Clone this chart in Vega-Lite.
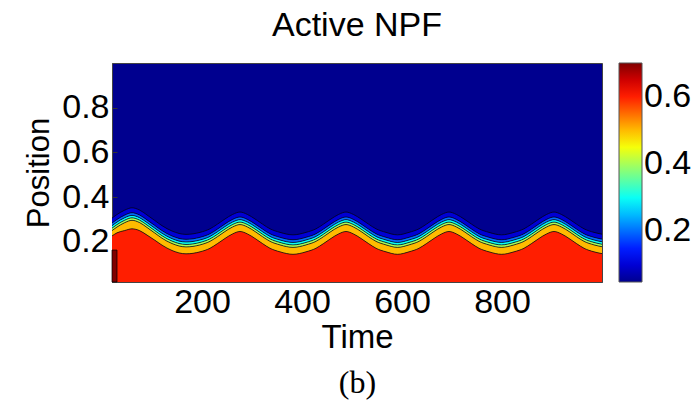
{
  "$schema": "https://vega.github.io/schema/vega-lite/v6.json",
  "width": 490,
  "height": 219,
  "autosize": {"type": "none"},
  "padding": {"left": 112, "top": 63, "right": 90, "bottom": 130},
  "background": "white",
  "title": {
    "text": "Active NPF",
    "font": "Liberation Sans",
    "fontSize": 34,
    "fontWeight": "normal",
    "color": "black",
    "anchor": "middle",
    "offset": 20
  },
  "config": {
    "view": {"fill": "#00008F", "stroke": "#444444", "strokeWidth": 1},
    "axis": {
      "labelFont": "Liberation Sans",
      "titleFont": "Liberation Sans",
      "labelFontSize": 34,
      "titleFontSize": 33,
      "titleFontWeight": "normal",
      "labelColor": "black",
      "titleColor": "black",
      "grid": false,
      "domainColor": "#444444",
      "tickColor": "#333333",
      "tickSize": -5,
      "labelPadding": 8
    },
    "axisY": {"titleFontSize": 31},
    "legend": {
      "labelFont": "Liberation Sans",
      "labelFontSize": 34,
      "labelColor": "black",
      "gradientLength": 219,
      "gradientThickness": 23,
      "gradientStrokeColor": "#555555",
      "gradientStrokeWidth": 1,
      "offset": 15,
      "padding": 0,
      "labelOffset": 2
    }
  },
  "data": {
    "values": [
      {"t": 20, "c10": 0.306, "c20": 0.284, "c30": 0.272, "c40": 0.261, "c50": 0.25, "c60": 0.226},
      {"t": 30, "c10": 0.322, "c20": 0.3, "c30": 0.288, "c40": 0.277, "c50": 0.266, "c60": 0.24},
      {"t": 45, "c10": 0.341, "c20": 0.319, "c30": 0.307, "c40": 0.296, "c50": 0.285, "c60": 0.25},
      {"t": 60, "c10": 0.352, "c20": 0.33, "c30": 0.318, "c40": 0.307, "c50": 0.296, "c60": 0.258},
      {"t": 75, "c10": 0.342, "c20": 0.32, "c30": 0.308, "c40": 0.297, "c50": 0.286, "c60": 0.25},
      {"t": 90, "c10": 0.32, "c20": 0.298, "c30": 0.286, "c40": 0.275, "c50": 0.264, "c60": 0.23},
      {"t": 105, "c10": 0.296, "c20": 0.274, "c30": 0.262, "c40": 0.251, "c50": 0.24, "c60": 0.208},
      {"t": 120, "c10": 0.272, "c20": 0.25, "c30": 0.238, "c40": 0.227, "c50": 0.216, "c60": 0.185},
      {"t": 140, "c10": 0.248, "c20": 0.226, "c30": 0.214, "c40": 0.203, "c50": 0.192, "c60": 0.161},
      {"t": 168, "c10": 0.233, "c20": 0.211, "c30": 0.199, "c40": 0.188, "c50": 0.177, "c60": 0.146},
      {"t": 196, "c10": 0.242, "c20": 0.22, "c30": 0.208, "c40": 0.197, "c50": 0.186, "c60": 0.155},
      {"t": 216, "c10": 0.258, "c20": 0.236, "c30": 0.224, "c40": 0.213, "c50": 0.202, "c60": 0.171},
      {"t": 231, "c10": 0.279, "c20": 0.257, "c30": 0.245, "c40": 0.234, "c50": 0.223, "c60": 0.192},
      {"t": 246, "c10": 0.302, "c20": 0.28, "c30": 0.268, "c40": 0.257, "c50": 0.246, "c60": 0.215},
      {"t": 261, "c10": 0.322, "c20": 0.3, "c30": 0.288, "c40": 0.277, "c50": 0.266, "c60": 0.235},
      {"t": 276, "c10": 0.333, "c20": 0.311, "c30": 0.299, "c40": 0.288, "c50": 0.277, "c60": 0.246},
      {"t": 291, "c10": 0.322, "c20": 0.3, "c30": 0.288, "c40": 0.277, "c50": 0.266, "c60": 0.235},
      {"t": 306, "c10": 0.302, "c20": 0.28, "c30": 0.268, "c40": 0.257, "c50": 0.246, "c60": 0.215},
      {"t": 321, "c10": 0.279, "c20": 0.257, "c30": 0.245, "c40": 0.234, "c50": 0.223, "c60": 0.192},
      {"t": 336, "c10": 0.258, "c20": 0.236, "c30": 0.224, "c40": 0.213, "c50": 0.202, "c60": 0.171},
      {"t": 356, "c10": 0.242, "c20": 0.22, "c30": 0.208, "c40": 0.197, "c50": 0.186, "c60": 0.155},
      {"t": 382, "c10": 0.231, "c20": 0.209, "c30": 0.197, "c40": 0.186, "c50": 0.175, "c60": 0.144},
      {"t": 408, "c10": 0.242, "c20": 0.22, "c30": 0.208, "c40": 0.197, "c50": 0.186, "c60": 0.155},
      {"t": 428, "c10": 0.258, "c20": 0.236, "c30": 0.224, "c40": 0.213, "c50": 0.202, "c60": 0.171},
      {"t": 443, "c10": 0.279, "c20": 0.257, "c30": 0.245, "c40": 0.234, "c50": 0.223, "c60": 0.192},
      {"t": 458, "c10": 0.302, "c20": 0.28, "c30": 0.268, "c40": 0.257, "c50": 0.246, "c60": 0.215},
      {"t": 473, "c10": 0.322, "c20": 0.3, "c30": 0.288, "c40": 0.277, "c50": 0.266, "c60": 0.235},
      {"t": 488, "c10": 0.333, "c20": 0.311, "c30": 0.299, "c40": 0.288, "c50": 0.277, "c60": 0.246},
      {"t": 503, "c10": 0.322, "c20": 0.3, "c30": 0.288, "c40": 0.277, "c50": 0.266, "c60": 0.235},
      {"t": 518, "c10": 0.302, "c20": 0.28, "c30": 0.268, "c40": 0.257, "c50": 0.246, "c60": 0.215},
      {"t": 533, "c10": 0.279, "c20": 0.257, "c30": 0.245, "c40": 0.234, "c50": 0.223, "c60": 0.192},
      {"t": 548, "c10": 0.258, "c20": 0.236, "c30": 0.224, "c40": 0.213, "c50": 0.202, "c60": 0.171},
      {"t": 568, "c10": 0.242, "c20": 0.22, "c30": 0.208, "c40": 0.197, "c50": 0.186, "c60": 0.155},
      {"t": 591, "c10": 0.231, "c20": 0.209, "c30": 0.197, "c40": 0.186, "c50": 0.175, "c60": 0.144},
      {"t": 614, "c10": 0.242, "c20": 0.22, "c30": 0.208, "c40": 0.197, "c50": 0.186, "c60": 0.155},
      {"t": 634, "c10": 0.258, "c20": 0.236, "c30": 0.224, "c40": 0.213, "c50": 0.202, "c60": 0.171},
      {"t": 649, "c10": 0.279, "c20": 0.257, "c30": 0.245, "c40": 0.234, "c50": 0.223, "c60": 0.192},
      {"t": 664, "c10": 0.302, "c20": 0.28, "c30": 0.268, "c40": 0.257, "c50": 0.246, "c60": 0.215},
      {"t": 679, "c10": 0.322, "c20": 0.3, "c30": 0.288, "c40": 0.277, "c50": 0.266, "c60": 0.235},
      {"t": 694, "c10": 0.333, "c20": 0.311, "c30": 0.299, "c40": 0.288, "c50": 0.277, "c60": 0.246},
      {"t": 709, "c10": 0.322, "c20": 0.3, "c30": 0.288, "c40": 0.277, "c50": 0.266, "c60": 0.235},
      {"t": 724, "c10": 0.302, "c20": 0.28, "c30": 0.268, "c40": 0.257, "c50": 0.246, "c60": 0.215},
      {"t": 739, "c10": 0.279, "c20": 0.257, "c30": 0.245, "c40": 0.234, "c50": 0.223, "c60": 0.192},
      {"t": 754, "c10": 0.258, "c20": 0.236, "c30": 0.224, "c40": 0.213, "c50": 0.202, "c60": 0.171},
      {"t": 774, "c10": 0.242, "c20": 0.22, "c30": 0.208, "c40": 0.197, "c50": 0.186, "c60": 0.155},
      {"t": 799, "c10": 0.231, "c20": 0.209, "c30": 0.197, "c40": 0.186, "c50": 0.175, "c60": 0.144},
      {"t": 824, "c10": 0.242, "c20": 0.22, "c30": 0.208, "c40": 0.197, "c50": 0.186, "c60": 0.155},
      {"t": 844, "c10": 0.258, "c20": 0.236, "c30": 0.224, "c40": 0.213, "c50": 0.202, "c60": 0.171},
      {"t": 859, "c10": 0.279, "c20": 0.257, "c30": 0.245, "c40": 0.234, "c50": 0.223, "c60": 0.192},
      {"t": 874, "c10": 0.302, "c20": 0.28, "c30": 0.268, "c40": 0.257, "c50": 0.246, "c60": 0.215},
      {"t": 889, "c10": 0.322, "c20": 0.3, "c30": 0.288, "c40": 0.277, "c50": 0.266, "c60": 0.235},
      {"t": 904, "c10": 0.333, "c20": 0.311, "c30": 0.299, "c40": 0.288, "c50": 0.277, "c60": 0.246},
      {"t": 919, "c10": 0.322, "c20": 0.3, "c30": 0.288, "c40": 0.277, "c50": 0.266, "c60": 0.235},
      {"t": 934, "c10": 0.302, "c20": 0.28, "c30": 0.268, "c40": 0.257, "c50": 0.246, "c60": 0.215},
      {"t": 949, "c10": 0.279, "c20": 0.257, "c30": 0.245, "c40": 0.234, "c50": 0.223, "c60": 0.192},
      {"t": 964, "c10": 0.258, "c20": 0.236, "c30": 0.224, "c40": 0.213, "c50": 0.202, "c60": 0.171},
      {"t": 984, "c10": 0.242, "c20": 0.22, "c30": 0.208, "c40": 0.197, "c50": 0.186, "c60": 0.155},
      {"t": 1000, "c10": 0.234, "c20": 0.212, "c30": 0.2, "c40": 0.189, "c50": 0.178, "c60": 0.147}
    ]
  },
  "layer": [
    {
      "encoding": {
        "x": {
          "field": "t",
          "type": "quantitative",
          "scale": {"domain": [20, 1000], "nice": false, "zero": false},
          "axis": {"values": [200, 400, 600, 800], "title": "Time", "titlePadding": 2}
        }
      },
      "layer": [
        {
          "mark": {"type": "area", "interpolate": "monotone"},
          "encoding": {
            "y": {
              "field": "c60",
              "type": "quantitative",
              "title": "Position",
              "scale": {"domain": [0.02, 1], "nice": false, "zero": false},
              "axis": {"values": [0.2, 0.4, 0.6, 0.8], "title": "Position", "titlePadding": 6}
            },
            "y2": {"datum": 0.02},
            "color": {
              "datum": 0.6,
              "type": "quantitative",
              "scale": {
                "type": "linear",
                "interpolate": "rgb",
                "domain": [0.05, 0.13125, 0.2125, 0.29375, 0.375, 0.45625, 0.5375, 0.61875, 0.7],
                "range": ["#00008F", "#0000FF", "#0080FF", "#00FFFF", "#80FF80", "#FFFF00", "#FF8000", "#FF0000", "#800000"]
              },
              "legend": {"title": null, "values": [0.2, 0.4, 0.6], "direction": "vertical"}
            }
          }
        },
        {
          "mark": {"type": "area", "interpolate": "monotone"},
          "encoding": {
            "y": {"field": "c50", "type": "quantitative", "title": "Position", "axis": {"values": [0.2, 0.4, 0.6, 0.8], "title": "Position", "titlePadding": 6}},
            "y2": {"field": "c60"},
            "color": {"datum": 0.5, "type": "quantitative"}
          }
        },
        {
          "mark": {"type": "area", "interpolate": "monotone"},
          "encoding": {
            "y": {"field": "c40", "type": "quantitative", "title": "Position", "axis": {"values": [0.2, 0.4, 0.6, 0.8], "title": "Position", "titlePadding": 6}},
            "y2": {"field": "c50"},
            "color": {"datum": 0.4, "type": "quantitative"}
          }
        },
        {
          "mark": {"type": "area", "interpolate": "monotone"},
          "encoding": {
            "y": {"field": "c30", "type": "quantitative", "title": "Position", "axis": {"values": [0.2, 0.4, 0.6, 0.8], "title": "Position", "titlePadding": 6}},
            "y2": {"field": "c40"},
            "color": {"datum": 0.3, "type": "quantitative"}
          }
        },
        {
          "mark": {"type": "area", "interpolate": "monotone"},
          "encoding": {
            "y": {"field": "c20", "type": "quantitative", "title": "Position", "axis": {"values": [0.2, 0.4, 0.6, 0.8], "title": "Position", "titlePadding": 6}},
            "y2": {"field": "c30"},
            "color": {"datum": 0.2, "type": "quantitative"}
          }
        },
        {
          "mark": {"type": "area", "interpolate": "monotone"},
          "encoding": {
            "y": {"field": "c10", "type": "quantitative", "title": "Position", "axis": {"values": [0.2, 0.4, 0.6, 0.8], "title": "Position", "titlePadding": 6}},
            "y2": {"field": "c20"},
            "color": {"datum": 0.1, "type": "quantitative"}
          }
        },
        {
          "data": {"values": [{"t": 20, "top": 0.163}, {"t": 30, "top": 0.163}]},
          "mark": {"type": "area", "stroke": "black", "strokeWidth": 0.7},
          "encoding": {
            "y": {"field": "top", "type": "quantitative", "title": "Position", "axis": {"values": [0.2, 0.4, 0.6, 0.8], "title": "Position", "titlePadding": 6}},
            "y2": {"datum": 0.02},
            "color": {"datum": 0.7, "type": "quantitative"}
          }
        }
      ]
    },
    {
      "transform": [{"fold": ["c10", "c20", "c30", "c40", "c50", "c60"], "as": ["contour", "pos"]}],
      "mark": {"type": "line", "interpolate": "monotone", "color": "black", "strokeWidth": 0.7},
      "encoding": {
        "x": {
          "field": "t",
          "type": "quantitative",
          "axis": {
            "orient": "bottom",
            "labels": false,
            "ticks": false,
            "domain": false,
            "title": "(b)",
            "titleFont": "Liberation Serif",
            "titleFontSize": 32,
            "titlePadding": 85
          }
        },
        "y": {"field": "pos", "type": "quantitative", "title": "Position", "axis": {"values": [0.2, 0.4, 0.6, 0.8], "title": "Position", "titlePadding": 6}},
        "detail": {"field": "contour", "type": "nominal"}
      }
    }
  ],
  "resolve": {"axis": {"x": "independent"}}
}
